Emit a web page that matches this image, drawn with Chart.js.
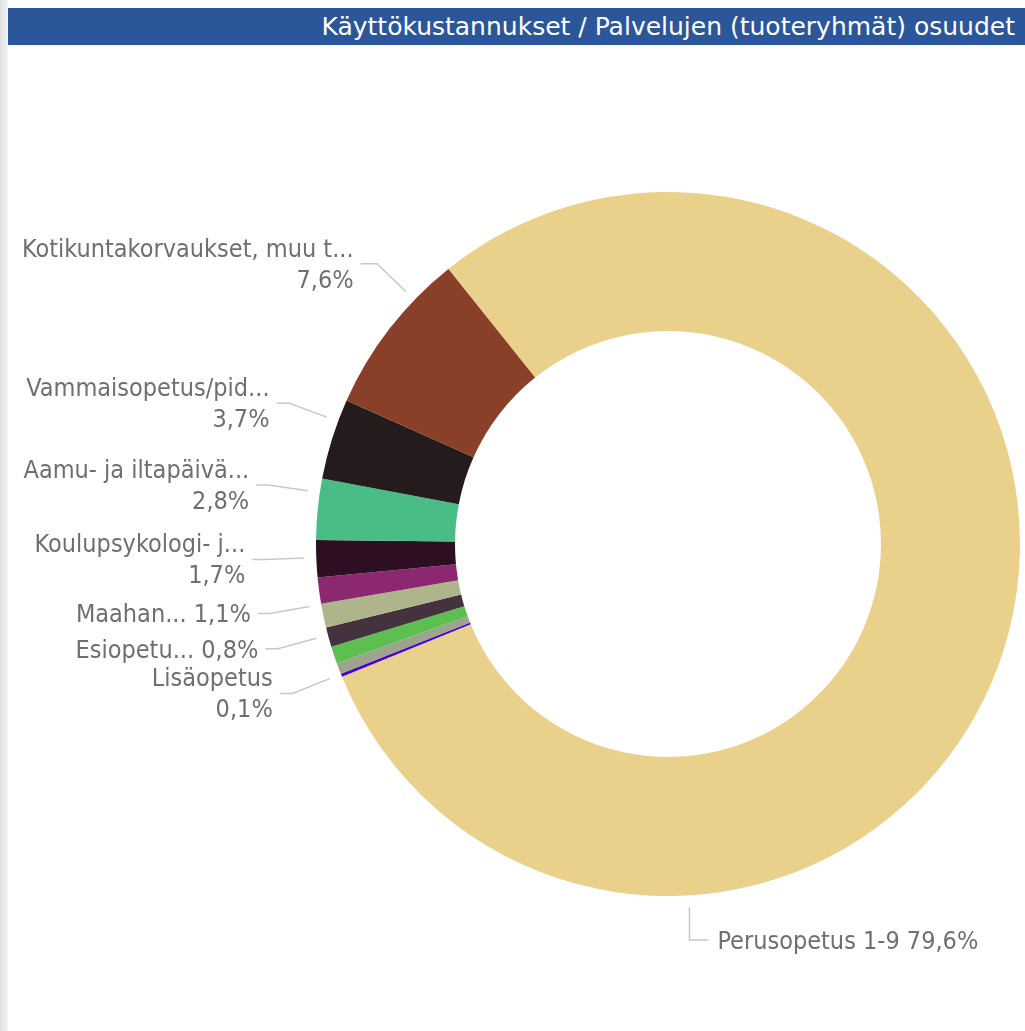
<!DOCTYPE html>
<html>
<head>
<meta charset="utf-8">
<script src="https://cdn.jsdelivr.net/npm/chart.js"></script>
<style>
  body{margin:0;background:#fff;}
  #visual{position:relative;width:1025px;height:1031px;overflow:hidden;background:#fff;}
  #reuna{position:absolute;left:0;top:0;width:8px;height:1031px;background:linear-gradient(to right,#e2e2e2,#f4f4f4);z-index:2;}
  #otsikko{position:absolute;left:8px;top:8px;right:0;height:37px;background:#2B569A;color:#fff;
    font-family:"DejaVu Sans",sans-serif;font-size:25px;
    line-height:37px;text-align:right;padding-right:10px;box-sizing:border-box;white-space:nowrap;z-index:2;}
  #kaavio{position:absolute;left:0;top:0;z-index:1;}
</style>
</head>
<body>
<div id="visual">
  <div id="reuna"></div>
  <div id="otsikko">Käyttökustannukset / Palvelujen (tuoteryhmät) osuudet</div>
  <canvas id="kaavio" width="1025" height="1031"></canvas>
</div>
<script>
// palvelut piirtojärjestyksessä (myötäpäivään Perusopetuksesta alkaen)
const palvelut=[
    "Perusopetus 1-9",
    "Lisäopetus",
    "Muu palvelu C",
    "Esiopetu...",
    "Muu palvelu B",
    "Maahan...",
    "Muu palvelu A",
    "Koulupsykologi- j...",
    "Aamu- ja iltapäivä...",
    "Vammaisopetus/pid...",
    "Kotikuntakorvaukset, muu t..."
];

// osuudet prosentteina
const osuudet=[79.6,0.14,0.5,0.8,0.9,1.1,1.2,1.7,2.8,3.7,7.6];

const varit=[
    "#EAD18B",
    "#4A06CC",
    "#9CA48D",
    "#5DBF50",
    "#45323F",
    "#AEB58A",
    "#8B2870",
    "#2D0E23",
    "#4ABD86",
    "#241B1C",
    "#8A3F28"
];

// miten nimi näytetään: kaksi = nimi ja % eri riveillä, yksi = samalla rivillä, ala = alhaalla, ei = ei nimeä
const nimiTapa=["ala","kaksi","ei","yksi","ei","yksi","ei","kaksi","kaksi","kaksi","kaksi"];
// nimen siirto asteina viipaleen keskikohdasta
const nimiSiirto=[72,0.2,0,3.4,0,1.85,0,0.2,2.7,3.0,6.2];

function prosentti(arvo,summa){
    return (arvo/summa*100).toFixed(1).replace(".",",")+"%";
}

const FONTTI='"DejaVu Sans Condensed","DejaVu Sans",sans-serif';

const nimet={
    id:"nimet",
    afterDatasetsDraw(chart){
        const ctx=chart.ctx;
        const meta=chart.getDatasetMeta(0);
        const summa=osuudet.reduce((a,b)=>a+b,0);
        ctx.save();
        ctx.font="25px "+FONTTI;
        ctx.fillStyle="#6f6f6f";
        ctx.strokeStyle="#c8c8c8";
        ctx.lineWidth=1.5;
        meta.data.forEach((kaari,i)=>{
            const tapa=nimiTapa[i];
            if(tapa==="ei") return;
            const p=kaari.getProps(["x","y","outerRadius","startAngle","endAngle"],true);
            const cx=p.x, cy=p.y, R=p.outerRadius;
            const kulma=(p.startAngle+p.endAngle)/2+nimiSiirto[i]*Math.PI/180;
            const cos=Math.cos(kulma), sin=Math.sin(kulma);
            const ax=cx+(R+12)*cos, ay=cy+(R+12)*sin;
            const pros=prosentti(osuudet[i],summa);
            ctx.beginPath();
            if(tapa==="ala"){
                const ly=cy+R+44;
                ctx.moveTo(ax,ay);
                ctx.lineTo(ax,ly);
                ctx.lineTo(ax+19,ly);
                ctx.stroke();
                ctx.textAlign="left";
                ctx.textBaseline="alphabetic";
                ctx.fillText(palvelut[i]+" "+pros,ax+28,ly+9);
                return;
            }
            const bx=cx+(R+52)*cos, by=cy+(R+52)*sin;
            const Rl=R+64;
            const hx=cx-Math.sqrt(Math.max(Rl*Rl-(by-cy)*(by-cy),0));
            ctx.moveTo(ax,ay);
            ctx.lineTo(bx,by);
            ctx.lineTo(hx,by);
            ctx.stroke();
            ctx.textAlign="right";
            ctx.textBaseline="alphabetic";
            if(tapa==="kaksi"){
                ctx.fillText(palvelut[i],hx-7,by-7);
                ctx.fillText(pros,hx-7,by+24);
            }else{
                ctx.fillText(palvelut[i]+" "+pros,hx-7,by+9);
            }
        });
        ctx.restore();
    }
};

new Chart("kaavio",{
    type:"doughnut",
    data:{
        labels:palvelut,
        datasets:[{
            data:osuudet,
            backgroundColor:varit,
            borderWidth:0
        }]
    },
    options:{
        responsive:false,
        animation:false,
        cutout:"60.5%",
        rotation:-38.6,
        layout:{padding:{left:316,right:5,top:192,bottom:135}},
        plugins:{
            legend:{display:false},
            tooltip:{enabled:false}
        }
    },
    plugins:[nimet]
});
</script>
</body>
</html>
